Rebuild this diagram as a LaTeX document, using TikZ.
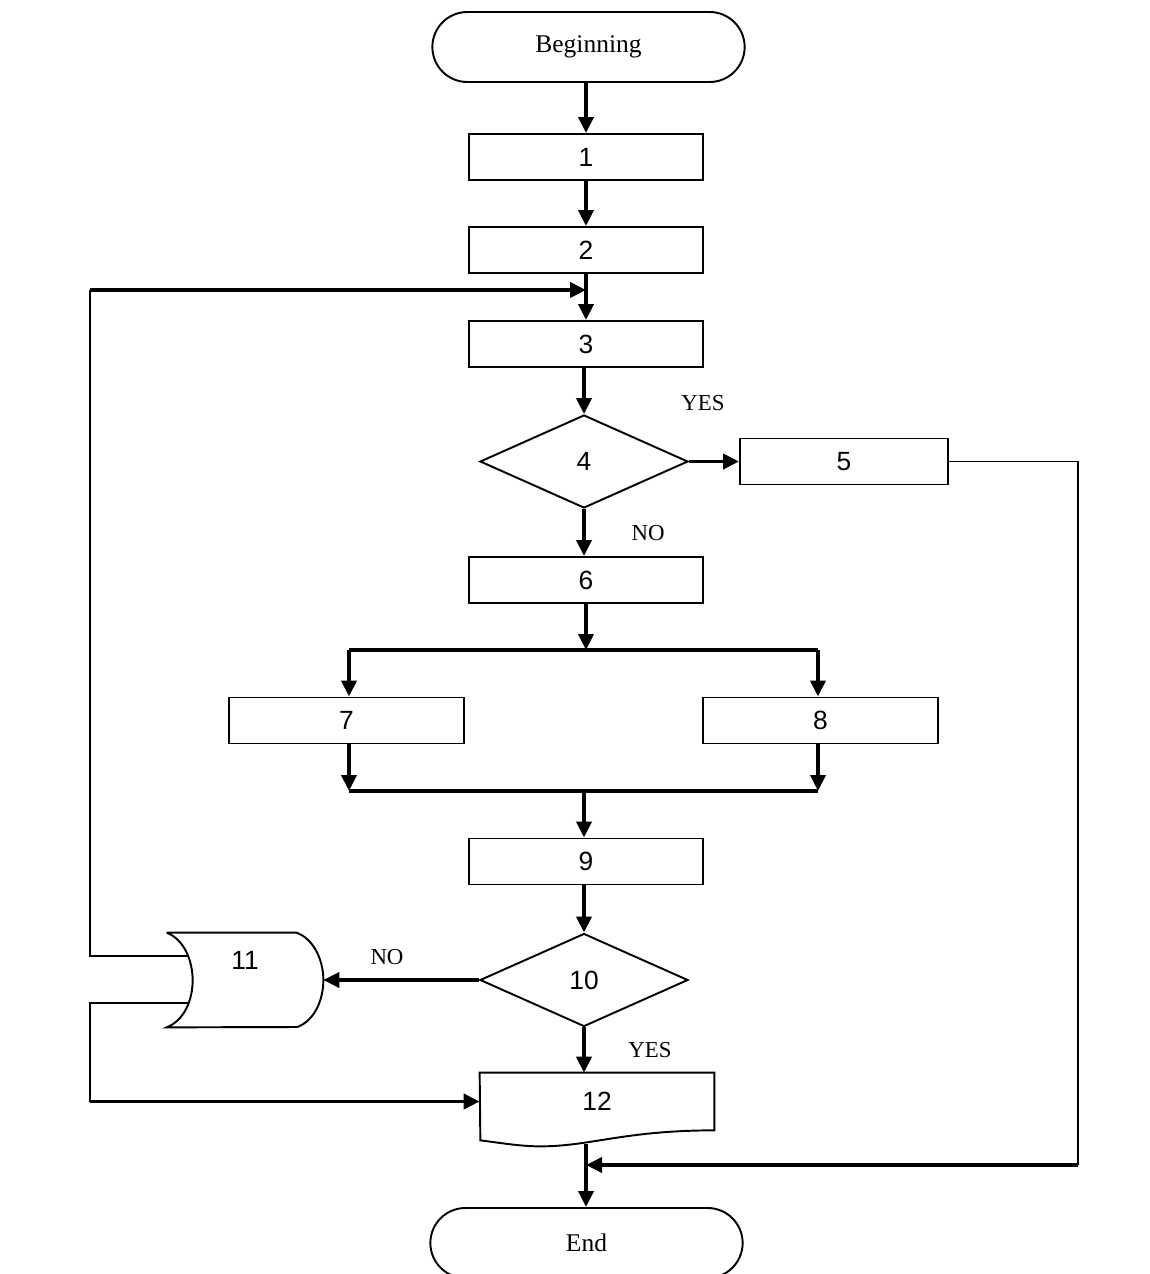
\documentclass[tikz,border=0pt]{standalone}
\usepackage{fontspec}
\setmainfont{Liberation Serif}
\setsansfont{Liberation Sans}
\usetikzlibrary{arrows.meta}
\usetikzlibrary{shapes.geometric}
\usetikzlibrary{shapes.misc}

\begin{document}
\begin{tikzpicture}[
        >={Triangle[length=3.2mm,width=3.0mm]},
        conn/.style={line width=2.2pt},
        thinline/.style={line width=1.1pt},
        term/.style={rounded rectangle, draw, line width=1.1pt,
                     minimum width=6.48cm, minimum height=1.4cm,
                     font=\fontsize{14.5}{17}\selectfont},
        box/.style={rectangle, draw, line width=1.1pt,
                    minimum width=4.68cm, minimum height=0.92cm,
                    font=\sffamily\fontsize{15}{18}\selectfont},
        decision/.style={diamond, draw, line width=1.1pt, inner sep=0pt,
                         minimum width=4.16cm, minimum height=1.86cm,
                         font=\sffamily\fontsize{15}{18}\selectfont},
        lbl/.style={font=\fontsize{13}{15}\selectfont},
    ]
    \useasboundingbox (0cm, 0cm) rectangle (23.0cm, -25.48cm);

    \node[term] (begin) at (11.77cm, -0.94cm) {Beginning};
    \node[box] (n1) at (11.72cm, -3.14cm) {1};
    \node[box] (n2) at (11.72cm, -5.00cm) {2};
    \node[box] (n3) at (11.72cm, -6.88cm) {3};
    \node[decision] (n4) at (11.68cm, -9.23cm) {4};
    \node[box, minimum width=4.16cm] (n5) at (16.88cm, -9.23cm) {5};
    \node[box] (n6) at (11.72cm, -11.60cm) {6};
    \node[box, minimum width=4.70cm] (n7) at (6.93cm, -14.41cm) {7};
    \node[box, minimum width=4.70cm] (n8) at (16.41cm, -14.41cm) {8};
    \node[box] (n9) at (11.72cm, -17.23cm) {9};
    \node[decision] (n10) at (11.68cm, -19.60cm) {10};
    \node[minimum width=3.12cm, minimum height=1.88cm, inner sep=0pt,
          label={[yshift=0.4cm, font=\sffamily\fontsize{15}{18}\selectfont]center:11}]
          (n11) at (4.90cm, -19.60cm) {};
    \node[minimum width=4.68cm, minimum height=1.14cm, inner sep=0pt,
          font=\sffamily\fontsize{15}{18}\selectfont]
          (n12) at (11.94cm, -22.03cm) {12};
    \node[term] (end) at (11.73cm, -24.86cm) {End};

    \draw[thinline] (n11.north west) -- ++(2.60cm, 0cm)
          .. controls +(0.36cm, -0.14cm) and +(0cm, 0.38cm) .. (n11.east)
          .. controls +(0cm, -0.38cm) and +(0.36cm, 0.14cm) .. ++(-0.52cm, -0.94cm)
          -- (n11.south west)
          .. controls +(0.36cm, 0.14cm) and +(0cm, -0.38cm) .. ++(0.52cm, 0.94cm)
          .. controls +(0cm, 0.38cm) and +(0.36cm, -0.14cm) .. (n11.north west);

    \draw[thinline] (n12.south east)
          .. controls +(-1.8cm, 0cm) and +(1.0cm, 0cm) .. ++(-3.48cm, -0.32cm)
          .. controls +(-0.4cm, 0cm) and +(0.4cm, -0.05cm) .. ++(-1.2cm, 0.12cm)
          -- (n12.north west) -- (n12.north east) -- cycle;

    \node[lbl] (yes4) at (14.06cm, -8.06cm) {YES};
    \node[lbl] (no4) at (12.96cm, -10.66cm) {NO};
    \node[lbl] (no10) at (7.74cm, -19.14cm) {NO};
    \node[lbl] (yes10) at (13.00cm, -21.00cm) {YES};

    \coordinate (j23) at (11.72cm, -5.80cm);
    \coordinate (xL) at (1.80cm, 0cm);
    \coordinate (loopTop) at (1.80cm, -5.80cm);
    \coordinate (n11a) at (3.78cm, -19.12cm);
    \coordinate (n11b) at (3.78cm, -20.06cm);
    \coordinate (loopLow) at (n12.west -| xL);
    \coordinate (split) at (11.72cm, -13.00cm);
    \coordinate (splitL) at (6.98cm, -13.00cm);
    \coordinate (splitR) at (16.36cm, -13.00cm);
    \coordinate (merge) at (11.68cm, -15.82cm);
    \coordinate (mergeL) at (splitL |- merge);
    \coordinate (mergeR) at (splitR |- merge);
    \coordinate (n12b) at (11.72cm, -22.88cm);
    \coordinate (c5) at (21.56cm, -23.30cm);
    \coordinate (jEnd) at (11.72cm, -23.30cm);

    \draw[conn, ->] (begin.south -| n1) -- (n1);
    \draw[conn, ->] (n1) -- (n2);
    \draw[conn, ->] (n2) -- (n3);
    \draw[conn, ->] (n3.south -| n4) -- (n4);
    \draw[conn, ->] (n4) -- (n5);
    \draw[conn, ->] (n4) -- (n6.north -| n4);
    \draw[conn, ->] (n6) -- (split);
    \draw[conn] (splitL) -- (splitR);
    \draw[conn, ->] (splitL) -- (n7.north -| splitL);
    \draw[conn, ->] (splitR) -- (n8.north -| splitR);
    \draw[conn, ->] (n7.south -| splitL) -- (mergeL);
    \draw[conn, ->] (n8.south -| splitR) -- (mergeR);
    \draw[conn] (mergeL) -- (mergeR);
    \draw[conn, ->] (merge) -- (n9.north -| merge);
    \draw[conn, ->] (n9.south -| n10) -- (n10);
    \draw[conn, ->] (n10) -- (n11.east);
    \draw[conn, ->] (n10) -- (n10 |- n12.north);

    \draw[thinline] (n11a) -| (loopTop);
    \draw[conn, ->] (loopTop) -- (j23);
    \draw[thinline] (n11b) -| (loopLow);
    \draw[conn, ->] (loopLow) -- (n12.west);

    \draw[thinline] (n5.east) -| (c5);
    \draw[conn, ->] (c5) -- (jEnd);
    \draw[conn, ->] (n12b) -- (end.north -| n12b);

    \end{tikzpicture}
\end{document}
